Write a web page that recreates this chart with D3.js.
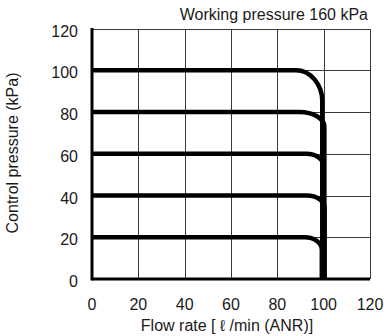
<!DOCTYPE html>
<html>
<head>
<meta charset="utf-8">
<script src="https://cdn.jsdelivr.net/npm/d3@7"></script>
<style>
  html, body { margin: 0; padding: 0; background: #fff; }
  svg { display: block; font-family: "Liberation Sans", Arial, sans-serif; }
</style>
</head>
<body>
<svg id="chart" width="384" height="336"></svg>
<script>
// Axis ticks
const xTicks = [0, 20, 40, 60, 80, 100, 120];
const yTicks = [0, 20, 40, 60, 80, 100, 120];

// Control pressure levels (kPa) and the shape of each characteristic:
// flat at the set pressure, then a rounded knee into the flow limit.
const levels    = [100, 80, 60, 40, 20];
const kneeStart = [88, 89.5, 92.5, 92.8, 91.8];      // flow where the knee begins
const limitFlow = [99.4, 100.3, 100.0, 100.4, 99.2]; // flow of the vertical drop
const kneeDrop  = [15, 7, 6, 6, 6];                  // pressure fall across the knee

const title = "Working pressure 160 kPa";
const xLabel = "Flow rate [ \u2113 /min (ANR)]";
const yLabel = "Control pressure (kPa)";

const svg = d3.select("#chart");
const x = d3.scaleLinear().domain([0, 120]).range([92, 370]);
const y = d3.scaleLinear().domain([0, 120]).range([279, 28.5]);

// grid
const grid = svg.append("g").attr("stroke", "#3a3a3a").attr("stroke-width", 1).attr("shape-rendering", "crispEdges");
grid.selectAll("line.v").data(xTicks.slice(1)).join("line")
  .attr("x1", d => Math.round(x(d)) + 0.5).attr("x2", d => Math.round(x(d)) + 0.5)
  .attr("y1", y(120)).attr("y2", y(0));
grid.selectAll("line.h").data(yTicks.slice(1)).join("line")
  .attr("y1", d => Math.round(y(d)) + 0.5).attr("y2", d => Math.round(y(d)) + 0.5)
  .attr("x1", x(0)).attr("x2", x(120));

// heavy left and bottom axis lines
svg.append("line").attr("x1", x(0)).attr("x2", x(0)).attr("y1", y(120) - 0.5).attr("y2", y(0) + 1.5)
  .attr("stroke", "#000").attr("stroke-width", 3);
svg.append("line").attr("x1", x(0)).attr("x2", x(120)).attr("y1", y(0)).attr("y2", y(0))
  .attr("stroke", "#000").attr("stroke-width", 3);

// tick labels
svg.append("g").selectAll("text").data(yTicks).join("text")
  .attr("x", 78).attr("y", d => y(d) + 8)
  .attr("text-anchor", "end").attr("font-size", 16).attr("fill", "#1a1a1a")
  .text(d => d);
svg.append("g").selectAll("text").data(xTicks).join("text")
  .attr("x", d => x(d)).attr("y", 310)
  .attr("text-anchor", "middle").attr("font-size", 16).attr("fill", "#1a1a1a")
  .text(d => d);

// characteristic curves: flat run, elliptical knee, vertical drop to zero
function curvePath(p, i) {
  const x0 = x(0), xs = x(kneeStart[i]), xl = x(limitFlow[i]);
  const yp = y(p), yk = y(p - kneeDrop[i]), y0 = y(0);
  const rx = xl - xs, ry = yk - yp;
  const path = d3.path();
  path.moveTo(x0, yp);
  path.lineTo(xs, yp);
  // quarter ellipse approximated by a cubic (kappa = 0.5523)
  const k = 0.5523;
  path.bezierCurveTo(xs + rx * k, yp, xl, yk - ry * k, xl, yk);
  path.lineTo(xl, y0);
  return path.toString();
}
svg.append("g").selectAll("path").data(levels).join("path")
  .attr("d", curvePath).attr("fill", "none")
  .attr("stroke", "#000").attr("stroke-width", 4.5);

// titles
svg.append("text").attr("x", 368).attr("y", 20).attr("text-anchor", "end")
  .attr("font-size", 16).attr("fill", "#1a1a1a").text(title);
svg.append("text").attr("x", 227).attr("y", 331).attr("text-anchor", "middle")
  .attr("font-size", 16).attr("fill", "#1a1a1a").text(xLabel);
svg.append("text").attr("transform", "translate(18,153) rotate(-90)")
  .attr("text-anchor", "middle").attr("font-size", 16).attr("fill", "#1a1a1a").text(yLabel);
</script>
</body>
</html>
